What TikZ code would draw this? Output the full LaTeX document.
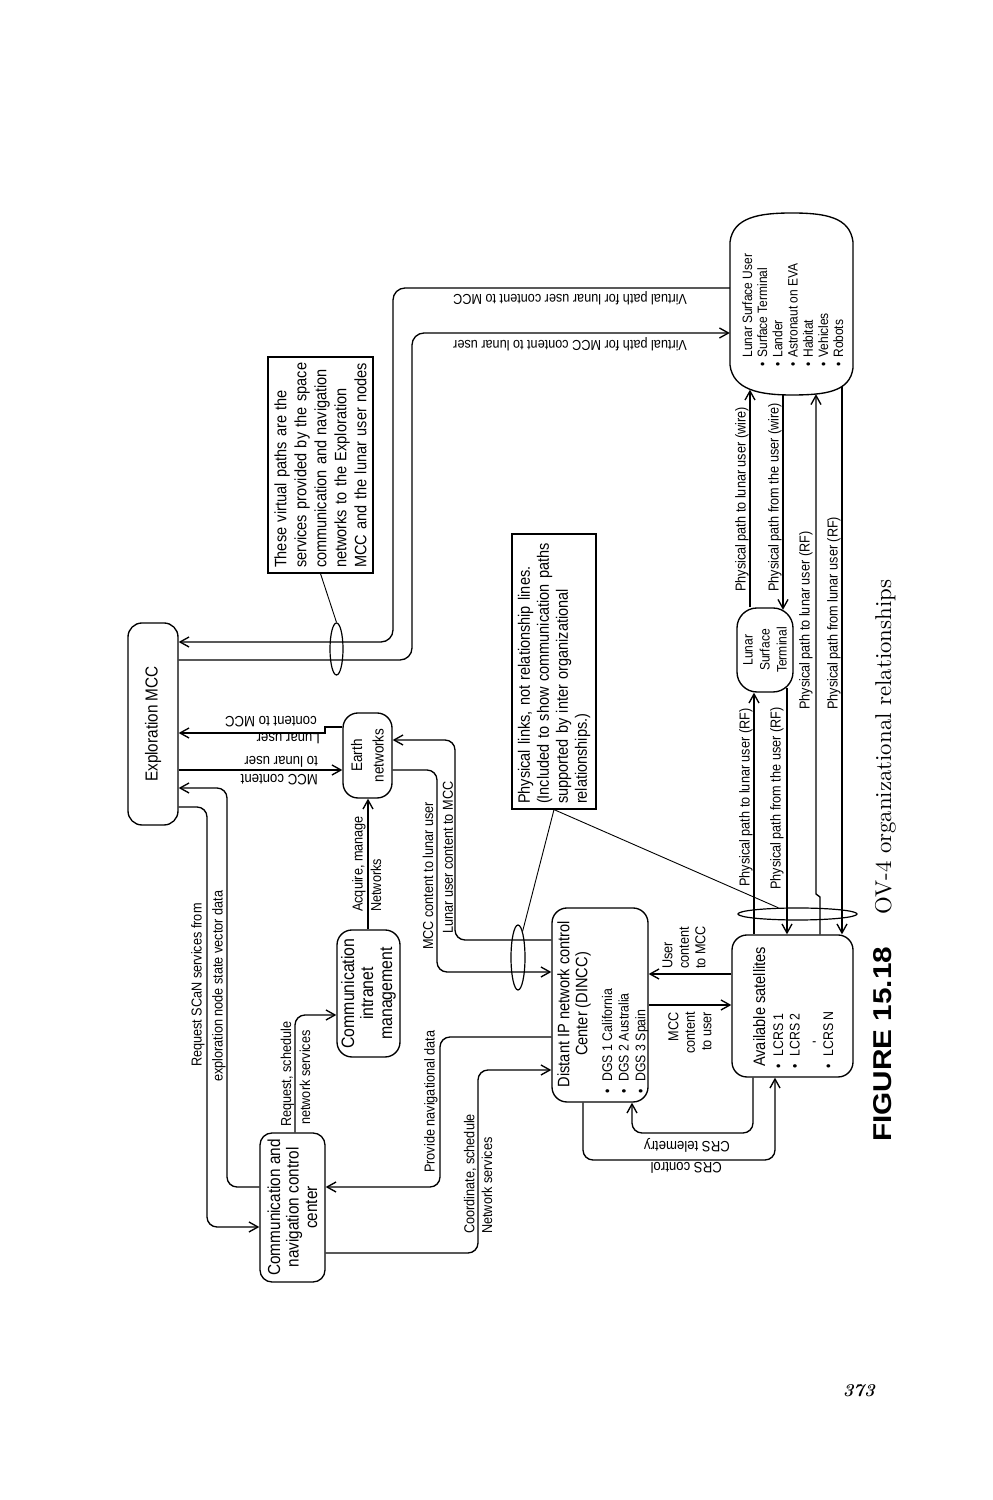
\documentclass[tikz,border=0pt]{standalone}
\usepackage{fontspec}
\usepackage{graphicx}
\usetikzlibrary{arrows.meta,shapes.geometric}
\newfontfamily\dsans[FakeStretch=0.88]{Liberation Sans}
\newfontfamily\capsans{Liberation Sans}
\newcommand\fMain{\dsans\fontsize{17.4}{18.5}\selectfont}
\newcommand\fCim{\dsans\fontsize{18}{19}\selectfont}
\newcommand\fEarth{\dsans\fontsize{15.3}{21.5}\selectfont}
\newcommand\fNote{\dsans\fontsize{16.5}{20}\selectfont}
\newcommand\fNoteB{\dsans\fontsize{16.5}{19}\selectfont}
\newcommand\fTitle{\dsans\fontsize{16.6}{18}\selectfont}
\newcommand\fItem{\dsans\fontsize{14}{16.7}\selectfont}
\newcommand\fLsu{\dsans\fontsize{13.6}{15.2}\selectfont}
\newcommand\fLst{\dsans\fontsize{13.7}{17}\selectfont}
\newcommand\fLab{\dsans\fontsize{14.4}{17}\selectfont}
\newcommand\fLabB{\dsans\fontsize{15}{17}\selectfont}
\newcommand\fLabC{\dsans\fontsize{14.4}{16.5}\selectfont}
\tikzset{
  box/.style={draw, line width=1.35pt, rounded corners=14, inner sep=0, align=center, font=\fMain},
  conn/.style={line width=1.35pt, rounded corners=10, -{Straight Barb[length=9pt,width=10pt]}},
  lab/.style={inner sep=0, font=\fLab, anchor=west},
  ulab/.style={inner sep=0, font=\fLabB, anchor=west, rotate=90},
  note/.style={draw, line width=1.2pt, align=left, font=\fNote, inner xsep=5, inner ysep=0},
  ell/.style={draw, ellipse, line width=1.2pt, inner sep=0},
  pointer/.style={line width=0.9pt}
}
\begin{document}
\begin{tikzpicture}[x=1pt,y=1pt]
\path[use as bounding box, fill=white] (0,0) rectangle (993,1500);
\begin{scope}[rotate=90, transform shape]
% ---------------- boxes ----------------
\node[box, minimum width=202, minimum height=50] (mcc) at (776,-153) {Exploration MCC};
\node[box, rounded corners=12, minimum width=149, minimum height=65] (cnc) at (292.5,-292.5) {Communication and\\navigation control\\center};
\node[box, rounded corners=15, minimum width=127, minimum height=63, font=\fCim] (cim) at (506.5,-368.5) {Communication\\intranet\\management};
\node[box, rounded corners=15, minimum width=85, minimum height=49, font=\fEarth] (earth) at (744.5,-367.5) {Earth\\networks};
\node[box, rounded corners=15, minimum width=194, minimum height=96] (dincc) at (495,-600) {};
\node[box, rounded corners=15, minimum width=142, minimum height=121] (sat) at (494,-792.5) {};
\node[box, rounded corners=20, minimum width=84, minimum height=56, font=\fLst] (lst) at (850,-765) {Lunar\\Surface\\Terminal};
\node[minimum width=182, minimum height=123, inner sep=0] (lsu) at (1196,-791.5) {};
\draw[line width=1.35pt] (1135,-730) -- (1258,-730)
  .. controls (1283,-733) and (1287,-760) .. (1287,-791.5)
  .. controls (1287,-825) and (1283,-850) .. (1258,-853) -- (1132,-853)
  .. controls (1108,-850) and (1105,-825) .. (1105,-791.5)
  .. controls (1105,-760) and (1110,-733) .. cycle;
% box contents
\node[inner sep=0, align=center, font=\fTitle] (dincct) at (496,-574) {Distant IP network control\\Center (DINCC)};
\node[inner sep=0, anchor=base west, font=\fItem] (dincci) at (406,-612) {\begin{tabular}[t]{@{}l@{\hspace{8pt}}l@{}}\textbullet & DGS 1 California\\ \textbullet & DGS 2 Australia\\ \textbullet & DGS 3 Spain\end{tabular}};
\node[inner sep=0, anchor=base west, font=\fTitle] (satt) at (433,-765) {Available satellites};
\node[inner sep=0, anchor=base west, font=\fItem] (sati) at (431,-783) {\begin{tabular}[t]{@{}l@{\hspace{8pt}}l@{}}\textbullet & LCRS 1\\ \textbullet & LCRS 2\\ & \hspace{14pt}\rotatebox{90}{-}\\ \textbullet & LCRS N\end{tabular}};
\node[inner sep=0, anchor=base west, font=\fLsu] (lsut) at (1133,-752) {\begin{tabular}[t]{@{}l@{\hspace{5pt}}l@{}} & Lunar Surface User\\ \textbullet & Surface Terminal\\ \textbullet & Lander\\ \textbullet & Astronaut on EVA\\ \textbullet & Habitat\\ \textbullet & Vehicles\\ \textbullet & Robots\end{tabular}};
% ---------------- notes ----------------
\node[note, text width=206, minimum height=105] (vnote) at (1035,-320.5) {These virtual paths are the\\services provided by the space\\communication and navigation\\networks to the Exploration\\MCC and the lunar user nodes};
\node[note, text width=265, minimum height=84, font=\fNoteB] (pnote) at (828.5,-554) {Physical links, not relationship lines.\\(Included to show communication paths\\supported by inter organizational\\relationships.)};
\node[ell, minimum width=52, minimum height=13] (vell) at (851,-336.5) {};
\node[ell, minimum width=65, minimum height=14] (dell) at (542.5,-518) {};
\node[ell, minimum width=12, minimum height=119] (sell) at (586,-797.5) {};
\draw[pointer] (vnote.west) -- (vell.east);
\draw[pointer] (pnote.west) -- (dell.-10);
\draw[pointer] (pnote.west) -- (sell.72);
% ---------------- connectors ----------------
\draw[conn] ([xshift=-83]mcc.south) |- (273,-207) -- ([xshift=-19.5]cnc.north);
\draw[conn] ([xshift=20.5]cnc.north) |- (712,-227) -- ([xshift=-64]mcc.south);
\draw[conn] ([yshift=-2.5]cnc.east) -| ([xshift=-21.5]cim.north);
\draw[conn] ([yshift=0.5]cim.east) -- ([yshift=-0.5]earth.west);
\draw[conn] ([xshift=-46]mcc.south) -- ([xshift=-14.5]earth.north);
\draw[conn, sharp corners] ([xshift=28.5]earth.north) -- (773,-325) -- (767,-325) -- ([xshift=-9]mcc.south);
\draw[conn, rounded corners=12] ([xshift=16]lsu.north) |- (858,-393) -- ([xshift=82]mcc.south);
\draw[conn, rounded corners=12] ([xshift=64]mcc.south) |- (1167,-412) -- ([xshift=-29]lsu.north);
\draw[conn] ([xshift=-14.5]earth.south) |- (528,-437) -- ([xshift=33]dincc.north);
\draw[conn] ([xshift=65]dincc.north) |- (760,-455) -- ([xshift=15.5]earth.south);
\draw[conn] ([xshift=-32]dincc.north) |- (313,-440) -- ([xshift=20.5]cnc.south);
\draw[conn] ([xshift=-45.5]cnc.south) |- (430,-478) -- ([xshift=-65]dincc.north);
\draw[conn] ([xshift=32]sat.north) -- ([xshift=31]dincc.south);
\draw[conn] (dincc.south) -- ([xshift=1]sat.north);
\draw[conn] ([yshift=17]dincc.west) -| (340,-775) -- ([yshift=17.5]sat.west);
\draw[conn] ([yshift=39.5]sat.west) -| (367,-632) -- ([yshift=-32]dincc.west);
\draw[conn] ([yshift=38.5]sat.east) -- ([yshift=11]lst.west);
\draw[conn] ([xshift=5,yshift=-22]lst.west) -- ([yshift=5.5]sat.east);
\draw[conn, sharp corners] ([yshift=-27.5]sat.east) -- (603,-820) -- (606,-816) -- ([xshift=1,yshift=-24.5]lsu.west);
\draw[conn] ([xshift=9,yshift=-50.5]lsu.west) -- ([yshift=-49.5]sat.east);
\draw[conn] ([yshift=15]lst.east) -- ([xshift=5.5,yshift=41.5]lsu.west);
\draw[conn] ([xshift=0.5,yshift=8.5]lsu.west) -- ([xshift=-2.5,yshift=-18]lst.east);
% ---------------- labels ----------------
\node[lab] (l1) at (433,-198) {Request SCaN services from};
\node[lab] (l2) at (418,-219) {exploration node state vector data};
\node[lab] (l3) at (373,-287.5) {Request, schedule};
\node[lab] (l4) at (375,-305) {network services};
\node[lab] (l5) at (327,-431) {Provide navigational data};
\node[lab] (l6) at (266,-470) {Coordinate, schedule};
\node[lab] (l7) at (266,-487) {Network services};
\node[lab] (l8) at (588,-359) {Acquire, manage};
\node[lab] (l9) at (588,-376) {Networks};
\node[lab] (l10) at (550,-428) {MCC content to lunar user};
\node[lab] (l11) at (566,-448) {Lunar user content to MCC};
\node[ulab] (l12) at (720,-318) {MCC content};
\node[ulab] (l13) at (738,-318) {to lunar user};
\node[ulab] (l14) at (761,-320) {Lunar user};
\node[ulab] (l15) at (778,-317) {content to MCC};
\node[ulab, font=\fLab] (l16) at (1202,-687) {Virtual path for lunar user content to MCC};
\node[ulab, font=\fLab] (l17) at (1156,-687) {Virtual path for MCC content to lunar user};
\node[ulab] (l18) at (355,-730) {CRS telemetry};
\node[ulab] (l19) at (332,-722) {CRS control};
\node[lab, align=left, font=\fLabC] (l20) at (531,-684) {User\\content\\to MCC};
\node[lab, align=right, anchor=east, font=\fLabC] (l21) at (488,-690) {MCC\\content\\to user};
\node[lab] (l22) at (613,-746) {Physical path to lunar user (RF)};
\node[lab] (l23) at (610,-777) {Physical path from the user (RF)};
\node[lab] (l24) at (790,-806) {Physical path to lunar user (RF)};
\node[lab] (l25) at (790,-834) {Physical path from lunar user (RF)};
\node[lab] (l26) at (908,-742) {Physical path to lunar user (wire)};
\node[lab] (l27) at (908,-775) {Physical path from the user (wire)};
% ---------------- caption ----------------
\node[inner sep=0, anchor=base west] (figlab) at (358,-891) {\resizebox{195pt}{18pt}{\capsans\bfseries FIGURE 15.18}};
\node[inner sep=0, anchor=base west] (figcap) at (585,-891) {\resizebox{335pt}{!}{OV-4 organizational relationships}};
\end{scope}
\node[inner sep=0, anchor=base east] (pgnum) at (875,103) {\resizebox{32pt}{!}{\bfseries\itshape 373}};
\end{tikzpicture}
\end{document}
